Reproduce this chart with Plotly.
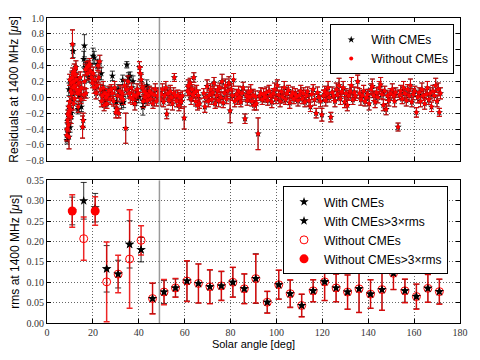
import plotly.graph_objects as go
from plotly.subplots import make_subplots

# ---- top panel: timing residuals per observation (without CMEs = red) ----
nocme_angle = [
    8.6, 8.8, 9.0, 9.1, 9.3, 9.4, 9.6, 9.7, 9.9, 10.0, 10.2, 10.3, 10.5, 10.6, 10.8, 10.9, 11.1, 11.2, 11.4, 11.5, 11.7, 11.9, 12.0, 12.2, 12.4, 12.6, 12.8, 13.0,
    13.3, 13.6, 13.9, 14.2, 14.5, 14.8, 15.1, 15.5, 15.8, 16.1, 16.4, 16.7, 17.0,
    17.4, 17.8, 18.2, 18.6, 19.0, 19.4, 19.8, 20.2, 20.6, 21.0, 21.4, 21.8,
    22.2, 22.6, 23.0, 23.3, 23.7, 24.1, 24.5, 24.9, 25.3, 25.7, 26.1, 26.5,
    27.0, 27.5, 28.0, 28.5, 29.0, 29.5, 30.0, 30.4, 30.8, 31.3, 31.8, 32.3, 32.8, 33.3, 33.8, 34.3, 34.8, 35.3,
    35.8, 36.3, 36.8, 37.3, 37.8, 38.3, 38.8, 39.3, 39.8, 40.3, 40.7, 41.1, 41.5, 41.9, 42.3, 42.7, 43.2, 43.7, 44.2, 44.7,
    45.2, 45.7, 46.2, 46.7, 47.2, 47.7, 48.2, 48.7, 49.3, 49.8, 50.3, 50.8, 51.3, 51.8, 52.2, 52.7, 53.2, 53.7, 54.2, 54.7, 55.2, 55.5, 56.0, 56.5, 57.0, 57.5, 58.0, 58.5, 59.0, 59.8,
    61.2, 61.6, 62.0, 62.4, 62.8, 63.2, 63.6, 64.0, 64.4, 64.8, 65.2, 65.6, 66.0, 66.5,
    68.3, 68.8, 69.3, 69.8, 70.3, 70.8, 71.3, 71.8, 72.3, 72.8, 73.3, 73.8, 74.3, 74.8, 75.3, 75.8, 76.3, 76.8, 77.3, 77.8, 78.3, 78.8, 79.3, 79.8, 80.3, 80.8, 81.3, 81.8,
    82.5, 83.0, 83.5, 84.0, 84.5, 85.0, 85.5, 86.3, 86.8, 87.3, 87.8, 88.3, 88.8, 89.3, 89.8, 90.3, 90.8, 91.3, 92.0, 92.6, 93.2, 93.8, 94.4,
    95.0, 95.6, 96.2, 96.8, 97.4, 98.0, 98.6, 99.2, 99.8, 100.4, 101.0, 101.6, 102.2, 102.8, 103.4, 104.0, 104.6, 105.2, 105.8, 106.4, 107.0, 107.6, 108.2, 108.8, 109.4,
    110.0, 110.6, 111.2, 111.8, 112.4, 113.0, 113.6, 114.2, 114.8, 115.4, 116.0, 116.6, 117.3, 117.9, 118.5, 119.2, 119.8,
    120.5, 121.0, 121.5, 122.0, 122.5, 123.0, 123.7, 124.3, 124.9, 125.5, 126.1, 126.7, 127.3, 127.9, 128.5, 129.1, 129.7, 130.3, 130.9, 131.5, 132.1, 132.7, 133.3, 133.9, 134.5, 135.4,
    136.2, 136.8, 137.4, 138.0, 138.6, 139.2, 139.8, 140.4, 141.2, 141.8, 142.4, 143.0, 143.6, 144.2, 144.8, 145.4, 146.0, 146.6, 147.2, 147.8, 148.4, 149.0, 149.6,
    150.5, 151.0, 151.5, 152.0, 153.0, 153.6, 154.2, 154.8, 155.4, 156.0, 156.6, 157.2, 157.8, 158.4, 159.0, 159.6, 160.3, 161.0, 161.6, 162.2, 162.8, 163.4, 164.0, 164.6, 165.2, 165.8, 166.4, 167.0, 167.6, 168.2, 168.8, 169.4, 170.0, 170.5, 171.0, 171.5,
]
nocme_res = [
    -0.48, -0.40, -0.30, -0.22, -0.35, -0.12, -0.50, -0.18, 0.22, -0.05, -0.15, 0.08, -0.25, 0.18, 0.05, 0.25, 0.67, 0.30, 0.12, -0.08, 0.20, 0.33, -0.02, 0.15, 0.28, 0.38, 0.10, 0.22,
    0.05, -0.12, 0.18, 0.08, 0.25, -0.02, 0.12, -0.375, -0.29, 0.03, 0.20, 0.35, 0.05,
    0.38, 0.30, 0.40, 0.42, 0.33, 0.25, 0.18, 0.30, 0.12, 0.22, 0.05, 0.15,
    0.40, 0.25, 0.45, 0.10, -0.05, 0.02, 0.12, -0.10, 0.05, 0.00, -0.08, 0.03,
    0.08, -0.02, 0.10, 0.05, -0.05, 0.12, -0.19, -0.15, 0.02, -0.20, 0.08, 0.00, 0.05, -0.03, 0.15, -0.39, 0.10, 0.20,
    0.05, 0.00, 0.12, -0.02, 0.03, -0.08, 0.02, 0.10, 0.05, 0.38, 0.30, 0.22, 0.12, -0.05, 0.08, 0.00, 0.05, -0.04, 0.02, 0.08,
    -0.02, 0.05, -0.08, 0.03, 0.10, -0.05, 0.02, 0.06, -0.03, 0.04, 0.10, -0.06, 0.02, 0.12, -0.21, 0.05, -0.04, 0.08, 0.00, -0.08, 0.05, 0.25, 0.02, -0.05, 0.03, -0.10, 0.00, -0.06, 0.02, -0.26,
    0.08, 0.15, 0.05, 0.18, -0.02, 0.10, 0.03, 0.25, 0.06, -0.05, 0.08, -0.10, 0.02, -0.08,
    0.05, -0.12, 0.00, 0.14, -0.05, 0.03, 0.10, -0.03, 0.06, 0.18, -0.08, 0.02, 0.09, -0.04, 0.12, 0.00, 0.20, -0.07, 0.05, 0.15, -0.02, 0.08, 0.18, -0.17, 0.10, 0.02, 0.22, -0.05,
    0.04, -0.02, 0.08, 0.00, -0.06, 0.05, 0.12, -0.27, 0.02, -0.04, 0.06, 0.00, 0.08, -0.05, 0.03, -0.10, 0.01, -0.08, -0.46, 0.02, 0.05, -0.03, 0.04,
    0.00, 0.06, -0.04, 0.08, 0.02, -0.06, 0.05, 0.10, -0.02, 0.15, 0.03, -0.05, 0.07, 0.00, 0.12, -0.03, 0.05, 0.09, -0.07, 0.02, 0.06, -0.02, 0.04, 0.01, -0.04,
    0.03, 0.08, -0.02, 0.05, -0.06, 0.02, 0.07, -0.04, -0.12, 0.04, 0.10, -0.03, -0.20, 0.06, 0.00, -0.05, -0.22,
    0.02, 0.08, -0.04, 0.05, 0.12, 0.00, -0.25, 0.06, 0.02, -0.05, 0.10, 0.03, 0.15, -0.02, 0.07, 0.12, -0.06, 0.05, -0.10, 0.02, 0.08, 0.15, -0.03, 0.06, 0.02, 0.20,
    0.05, -0.03, 0.02, 0.08, -0.05, 0.00, 0.04, -0.08, 0.10, 0.14, 0.02, -0.06, 0.06, 0.00, 0.12, 0.16, 0.04, -0.10, 0.08, -0.15, 0.02, -0.04, 0.05,
    0.10, 0.02, -0.05, 0.06, -0.375, 0.03, 0.08, -0.02, 0.12, 0.05, -0.04, 0.10, 0.02, 0.15, -0.06, 0.04, 0.08, -0.19, 0.00, 0.06, -0.05, 0.10, 0.02, -0.08, 0.04, 0.12, -0.03, 0.05, -0.12, 0.08, 0.02, 0.15, -0.05, 0.10, -0.19, 0.05,
]
nocme_err = [
    0.07, 0.08, 0.09, 0.06, 0.08, 0.07, 0.15, 0.08, 0.07, 0.06, 0.09, 0.07, 0.08, 0.06, 0.07, 0.08, 0.18, 0.07, 0.06, 0.08, 0.07, 0.09, 0.06, 0.08, 0.07, 0.08, 0.06, 0.07,
    0.06, 0.07, 0.08, 0.06, 0.07, 0.06, 0.08, 0.14, 0.09, 0.07, 0.08, 0.07, 0.06,
    0.07, 0.08, 0.06, 0.07, 0.08, 0.07, 0.06, 0.08, 0.07, 0.06, 0.07, 0.08,
    0.06, 0.07, 0.08, 0.06, 0.07, 0.06, 0.08, 0.07, 0.06, 0.07, 0.06, 0.07,
    0.06, 0.07, 0.06, 0.07, 0.06, 0.08, 0.07, 0.06, 0.07, 0.06, 0.07, 0.06, 0.08, 0.06, 0.07, 0.19, 0.06, 0.07,
    0.06, 0.07, 0.06, 0.07, 0.06, 0.08, 0.06, 0.07, 0.06, 0.07, 0.08, 0.07, 0.06, 0.08, 0.07, 0.06, 0.07, 0.06, 0.07, 0.06,
    0.06, 0.07, 0.06, 0.08, 0.07, 0.06, 0.07, 0.06, 0.08, 0.06, 0.07, 0.06, 0.07, 0.08, 0.06, 0.07, 0.06, 0.07, 0.06, 0.08, 0.07, 0.05, 0.06, 0.07, 0.06, 0.07, 0.06, 0.08, 0.06, 0.14,
    0.06, 0.07, 0.08, 0.06, 0.07, 0.06, 0.08, 0.06, 0.07, 0.06, 0.07, 0.06, 0.07, 0.06,
    0.06, 0.07, 0.06, 0.08, 0.07, 0.06, 0.07, 0.06, 0.08, 0.07, 0.06, 0.07, 0.06, 0.08, 0.06, 0.07, 0.09, 0.06, 0.07, 0.08, 0.06, 0.07, 0.08, 0.15, 0.07, 0.06, 0.08, 0.07,
    0.06, 0.07, 0.06, 0.07, 0.06, 0.08, 0.07, 0.06, 0.07, 0.06, 0.07, 0.06, 0.08, 0.06, 0.07, 0.06, 0.07, 0.08, 0.20, 0.06, 0.07, 0.06, 0.07,
    0.06, 0.07, 0.06, 0.07, 0.06, 0.07, 0.06, 0.08, 0.06, 0.07, 0.06, 0.07, 0.06, 0.07, 0.08, 0.06, 0.07, 0.06, 0.07, 0.06, 0.07, 0.06, 0.07, 0.06, 0.07,
    0.06, 0.07, 0.06, 0.07, 0.06, 0.07, 0.06, 0.07, 0.06, 0.07, 0.06, 0.07, 0.06, 0.07, 0.06, 0.07, 0.08,
    0.07, 0.06, 0.07, 0.06, 0.08, 0.06, 0.06, 0.07, 0.06, 0.07, 0.08, 0.06, 0.09, 0.07, 0.06, 0.08, 0.07, 0.06, 0.07, 0.06, 0.08, 0.10, 0.06, 0.07, 0.06, 0.08,
    0.06, 0.07, 0.06, 0.07, 0.06, 0.07, 0.06, 0.08, 0.07, 0.09, 0.06, 0.07, 0.06, 0.07, 0.08, 0.09, 0.06, 0.07, 0.06, 0.07, 0.06, 0.07, 0.06,
    0.07, 0.06, 0.07, 0.06, 0.05, 0.06, 0.07, 0.06, 0.08, 0.06, 0.07, 0.06, 0.07, 0.08, 0.06, 0.07, 0.06, 0.06, 0.07, 0.06, 0.07, 0.08, 0.06, 0.07, 0.06, 0.08, 0.06, 0.07, 0.06, 0.07, 0.06, 0.09, 0.07, 0.08, 0.05, 0.07,
]

# observations affected by CMEs (only in the "with CMEs" set)
cme_angle = [8.7, 9.2, 9.5, 10.1, 10.6, 11.0, 11.4, 12.8, 13.5, 14.0, 15.0, 16.0, 16.3, 16.8, 17.5, 18.0, 20.1, 20.6, 22.0, 23.7,
             24.5, 25.5, 27.0, 28.5, 30.2, 31.0, 32.5, 33.0, 33.4, 34.8, 35.5, 36.2, 37.5, 38.5, 40.0, 41.8, 42.5, 43.5, 44.0]
cme_res = [-0.54, -0.45, 0.10, -0.38, -0.20, 0.05, 0.58, 0.25, -0.15, 0.02, -0.12, 0.48, 0.65, 0.38, 0.40, 0.25, 0.52, 0.50, 0.42, 0.30,
           0.08, -0.05, 0.05, 0.27, -0.06, 0.10, -0.08, 0.22, -0.06, 0.41, 0.25, 0.27, 0.20, -0.04, 0.00, -0.125, -0.02, 0.15, 0.08]
cme_err = [0.05, 0.06, 0.08, 0.06, 0.07, 0.08, 0.08, 0.06, 0.06, 0.07, 0.06, 0.10, 0.14, 0.06, 0.07, 0.06, 0.10, 0.08, 0.06, 0.08,
           0.07, 0.06, 0.07, 0.06, 0.07, 0.06, 0.07, 0.06, 0.07, 0.04, 0.06, 0.05, 0.07, 0.06, 0.07, 0.10, 0.06, 0.07, 0.06]

assert len(nocme_angle) == len(nocme_res) == len(nocme_err)
assert len(cme_angle) == len(cme_res) == len(cme_err)

# ---- bottom panel: rms per 5-degree bin ----
bin_angle = [11, 16, 21, 26, 31, 36, 41, 46, 51, 56, 61, 66, 71, 76, 81, 86, 91,
             96, 101, 106, 111, 116, 121, 126, 131, 136, 141, 146, 151, 156, 161, 166, 171]
rms_with = [0.275, 0.300, 0.283, 0.133, 0.120, 0.193, 0.180, 0.060, 0.076, 0.086, 0.103, 0.097, 0.089, 0.091, 0.100, 0.084, 0.109,
            0.051, 0.094, 0.072, 0.043, 0.079, 0.101, 0.086, 0.076, 0.084, 0.071, 0.082, 0.122, 0.079, 0.065, 0.085, 0.077]
rms_with_err = [0.034, 0.045, 0.035, 0.057, 0.034, 0.058, 0.030, 0.037, 0.028, 0.022, 0.049, 0.048, 0.041, 0.035, 0.036, 0.036, 0.061,
                0.026, 0.035, 0.033, 0.027, 0.027, 0.046, 0.034, 0.042, 0.058, 0.035, 0.051, 0.040, 0.028, 0.030, 0.034, 0.030]
rms_without = [0.275, 0.207, 0.275, 0.101, 0.120, 0.157, 0.203, 0.060, 0.076, 0.086, 0.103, 0.097, 0.089, 0.091, 0.100, 0.084, 0.109,
               0.051, 0.094, 0.072, 0.043, 0.079, 0.101, 0.086, 0.076, 0.084, 0.071, 0.082, 0.122, 0.079, 0.065, 0.085, 0.077]
rms_without_err = [0.040, 0.053, 0.035, 0.098, 0.046, 0.121, 0.036, 0.038, 0.031, 0.023, 0.050, 0.048, 0.042, 0.036, 0.037, 0.037, 0.060,
                   0.027, 0.036, 0.034, 0.028, 0.027, 0.046, 0.034, 0.042, 0.058, 0.035, 0.051, 0.040, 0.029, 0.031, 0.034, 0.031]
hi_bins_with = [11, 16, 21]      # rms > 3x reference rms
hi_bins_without = [11, 21]

CUT_ANGLE = 49  # gray reference line

# tick positions
x_ticks = [0, 20, 40, 60, 80, 100, 120, 140, 160, 180]
res_ticks = [-0.8, -0.6, -0.4, -0.2, 0.0, 0.2, 0.4, 0.6, 0.8, 1.0]
rms_ticks = [0.0, 0.05, 0.10, 0.15, 0.20, 0.25, 0.30, 0.35]

RED = "#ff0000"
RED_BAR = "rgba(235,0,0,0.85)"
BLACK_BAR = "rgba(0,0,0,0.8)"


def pick(bins, vals, errs, keep):
    out = [(b, v, e) for b, v, e in zip(bins, vals, errs) if keep(b)]
    return [o[0] for o in out], [o[1] for o in out], [o[2] for o in out]


fig = make_subplots(rows=2, cols=1, shared_xaxes=False)

# top: with CMEs (black stars) under without CMEs (red dots)
fig.add_trace(go.Scatter(
    x=nocme_angle + cme_angle, y=nocme_res + cme_res, mode="markers", name="With CMEs",
    marker=dict(symbol="star", size=5.5, color="black"),
    error_y=dict(type="data", array=nocme_err + cme_err, color=BLACK_BAR, thickness=1, width=2.5),
    legend="legend"), row=1, col=1)
fig.add_trace(go.Scatter(
    x=nocme_angle, y=nocme_res, mode="markers", name="Without CMEs",
    marker=dict(symbol="circle", size=4, color=RED),
    error_y=dict(type="data", array=nocme_err, color=RED_BAR, thickness=1.1, width=2.5),
    legend="legend"), row=1, col=1)

# bottom
bx, by, be = pick(bin_angle, rms_with, rms_with_err, lambda b: b not in hi_bins_with)
hx, hy, he = pick(bin_angle, rms_with, rms_with_err, lambda b: b in hi_bins_with)
fig.add_trace(go.Scatter(
    x=bx, y=by, mode="markers", name="With CMEs",
    marker=dict(symbol="star", size=7, color="black"),
    error_y=dict(type="data", array=be, color=BLACK_BAR, thickness=1, width=3),
    legend="legend2"), row=2, col=1)
fig.add_trace(go.Scatter(
    x=hx, y=hy, mode="markers", name="With CMEs>3×rms",
    marker=dict(symbol="star", size=7, color="black"),
    error_y=dict(type="data", array=he, color=BLACK_BAR, thickness=1, width=3),
    legend="legend2"), row=2, col=1)
ox, oy, oe = pick(bin_angle, rms_without, rms_without_err, lambda b: b not in hi_bins_without)
fx, fy, fe = pick(bin_angle, rms_without, rms_without_err, lambda b: b in hi_bins_without)
fig.add_trace(go.Scatter(
    x=ox, y=oy, mode="markers", name="Without CMEs",
    marker=dict(symbol="circle-open", size=8, color=RED, line=dict(width=1)),
    error_y=dict(type="data", array=oe, color=RED_BAR, thickness=1.5, width=3),
    legend="legend2"), row=2, col=1)
fig.add_trace(go.Scatter(
    x=fx, y=fy, mode="markers", name="Without CMEs>3×rms",
    marker=dict(symbol="circle", size=9, color=RED),
    error_y=dict(type="data", array=fe, color=RED_BAR, thickness=1.5, width=3),
    legend="legend2"), row=2, col=1)
# black stars again on top of the red error bars
fig.add_trace(go.Scatter(
    x=bx, y=by, mode="markers", showlegend=False, hoverinfo="skip",
    marker=dict(symbol="star", size=7, color="black")), row=2, col=1)

for r in (1, 2):
    fig.add_vline(x=CUT_ANGLE, line=dict(color="#9a9a9a", width=1.5), row=r, col=1)

tickfont = dict(family="Liberation Serif, DejaVu Serif, serif", size=10, color="#333333")
axis_common = dict(showline=True, linecolor="black", linewidth=1, mirror="allticks",
                   ticks="inside", ticklen=4, tickcolor="black", showgrid=True,
                   gridcolor="rgba(0,0,0,0.6)", griddash="1px,2px", gridwidth=1,
                   zeroline=False, tickfont=tickfont)

fig.update_xaxes(range=[0, 180], tickvals=x_ticks, **axis_common)
fig.update_xaxes(showticklabels=False, row=1, col=1)
fig.update_xaxes(title=dict(text="Solar angle [deg]", font=dict(size=11), standoff=2), row=2, col=1)
fig.update_yaxes(range=[-0.8, 1.0], tickvals=res_ticks, tickformat=".1f", domain=[0.532, 1.0],
                 title=dict(text="Residuals at 1400 MHz [<i>μ</i>s]", font=dict(size=12), standoff=4),
                 row=1, col=1, **axis_common)
fig.update_yaxes(range=[0, 0.35], tickvals=rms_ticks, tickformat=".2f", domain=[0.0, 0.4675],
                 title=dict(text="rms at 1400 MHz [<i>μ</i>s]", font=dict(size=12), standoff=4),
                 row=2, col=1, **axis_common)

legend_style = dict(bgcolor="white", bordercolor="black", borderwidth=1,
                    font=dict(size=12, color="black"), xanchor="right", yanchor="top",
                    itemwidth=30, tracegroupgap=0)
fig.update_layout(
    width=480, height=360,
    margin=dict(l=47, r=18, t=15, b=37),
    paper_bgcolor="white", plot_bgcolor="white",
    font=dict(family="Liberation Sans, Arial, sans-serif", color="black"),
    legend=dict(x=0.986, y=0.98, **legend_style),
    legend2=dict(x=0.971, y=0.448, **legend_style),
)

# page body margin would push the 480x360 figure off the window
fig.write_html("out.html", config={"displayModeBar": False},
               post_script="document.body.style.margin='0';")
